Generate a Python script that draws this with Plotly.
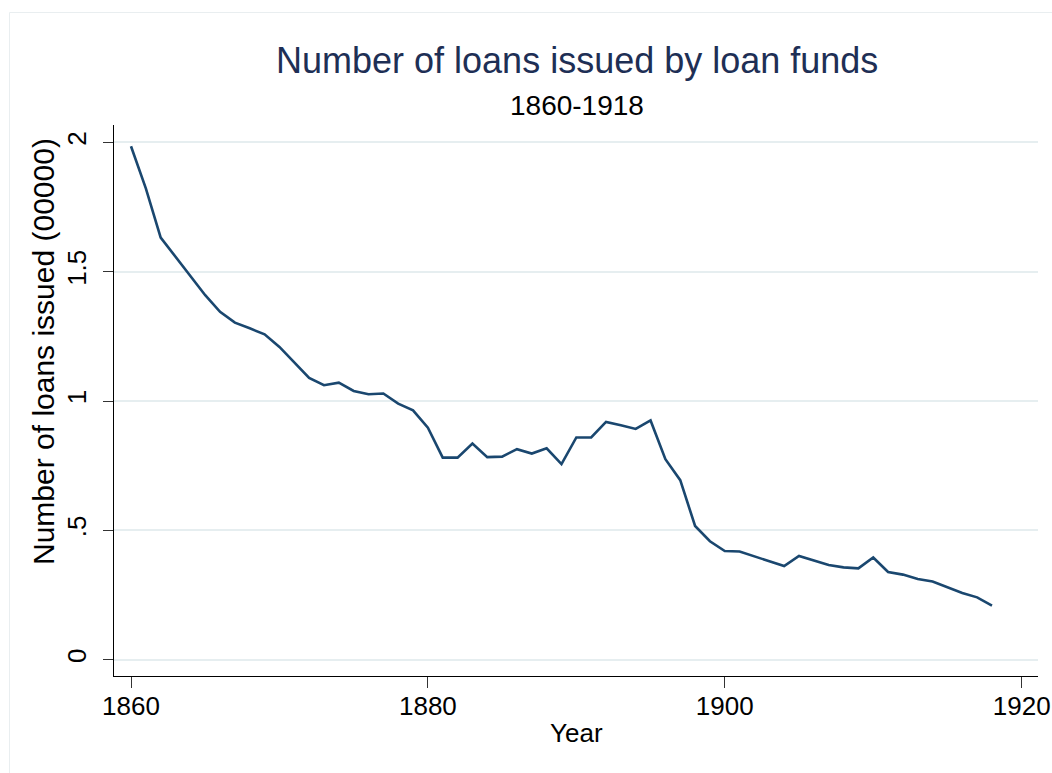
import plotly.graph_objects as go

years = list(range(1860, 1919))
loans = [1.985, 1.822, 1.632, 1.557, 1.480, 1.409, 1.345, 1.303, 1.281, 1.258,
         1.209, 1.149, 1.089, 1.061, 1.071, 1.039, 1.026, 1.029, 0.990, 0.964,
         0.897, 0.781, 0.781, 0.836, 0.783, 0.785, 0.814, 0.797, 0.817, 0.756,
         0.859, 0.859, 0.919, 0.906, 0.892, 0.925, 0.775, 0.694, 0.517, 0.458,
         0.420, 0.418, 0.400, 0.382, 0.362, 0.401, 0.383, 0.366, 0.357, 0.353,
         0.395, 0.339, 0.329, 0.312, 0.302, 0.279, 0.258, 0.241, 0.209]

y_tickvals = [0, 0.5, 1, 1.5, 2]
y_ticktext = ["0", ".5", "1", "1.5", "2"]
x_tickvals = [1860, 1880, 1900, 1920]

title_text = "Number of loans issued by loan funds"
subtitle_text = "1860-1918"
x_title = "Year"
y_title = "Number of loans issued (00000)"

FONT = "Liberation Sans, Arial, sans-serif"
W, H = 1052, 773
ML, MR, MT, MB = 114, 14, 125, 97
PW, PH = W - ML - MR, H - MT - MB


def px_x(p):
    return (p - ML) / PW


def px_y(p):
    return (H - MB - p) / PH


fig = go.Figure()
fig.add_trace(go.Scatter(x=years, y=loans, mode="lines",
                         line=dict(color="#1a476f", width=2.6),
                         hoverinfo="x+y", showlegend=False))

fig.update_layout(
    width=W, height=H, autosize=False,
    margin=dict(l=ML, r=MR, t=MT, b=MB, pad=0, autoexpand=False),
    paper_bgcolor="white", plot_bgcolor="white",
    font=dict(family=FONT, color="black", size=26),
    showlegend=False,
    xaxis=dict(range=[1858.855, 1921.1], tickvals=x_tickvals,
               showgrid=False, zeroline=False, automargin=False,
               ticklabeloverflow="allow", ticklabelstandoff=-4,
               showline=True, linecolor="black", linewidth=1.3,
               ticks="outside", ticklen=11, tickwidth=1.3, tickcolor="#333333",
               tickfont=dict(size=26, family=FONT, color="black")),
    yaxis=dict(range=[-0.063, 2.067], tickvals=y_tickvals, ticktext=y_ticktext,
               tickangle=-90, automargin=False, ticklabelstandoff=6,
               showgrid=True, gridcolor="#e6eef0", gridwidth=2, zeroline=False,
               showline=True, linecolor="black", linewidth=1.3,
               ticks="outside", ticklen=10, tickwidth=1.3, tickcolor="#333333",
               tickfont=dict(size=26, family=FONT, color="black")),
    annotations=[
        dict(text=title_text, xref="paper", yref="paper",
             x=px_x(577), y=px_y(60.3), xanchor="center", yanchor="middle",
             showarrow=False, font=dict(size=36, color="#1e2f55", family=FONT)),
        dict(text=subtitle_text, xref="paper", yref="paper",
             x=px_x(576.5), y=px_y(105), xanchor="center", yanchor="middle",
             showarrow=False, font=dict(size=28, color="black", family=FONT)),
        dict(text=x_title, xref="paper", yref="paper",
             x=px_x(576.5), y=px_y(733), xanchor="center", yanchor="middle",
             showarrow=False, font=dict(size=26, color="black", family=FONT)),
        dict(text=y_title, xref="paper", yref="paper", textangle=-90,
             x=px_x(43), y=px_y(352), xanchor="center", yanchor="middle",
             showarrow=False, font=dict(size=30, color="black", family=FONT)),
    ],
    shapes=[
        dict(type="rect", xref="paper", yref="paper",
             x0=px_x(9.5), x1=px_x(1060), y0=px_y(780), y1=px_y(12.5),
             line=dict(color="#e9eef0", width=1), fillcolor="rgba(0,0,0,0)",
             layer="below"),
    ],
)

post = ("document.documentElement.style.margin='0';"
        "document.documentElement.style.overflow='hidden';"
        "document.body.style.margin='0';"
        "document.body.style.padding='0';"
        "document.body.style.overflow='hidden';")

fig.write_html("out.html", config={"responsive": False, "displayModeBar": False},
               post_script=post)
